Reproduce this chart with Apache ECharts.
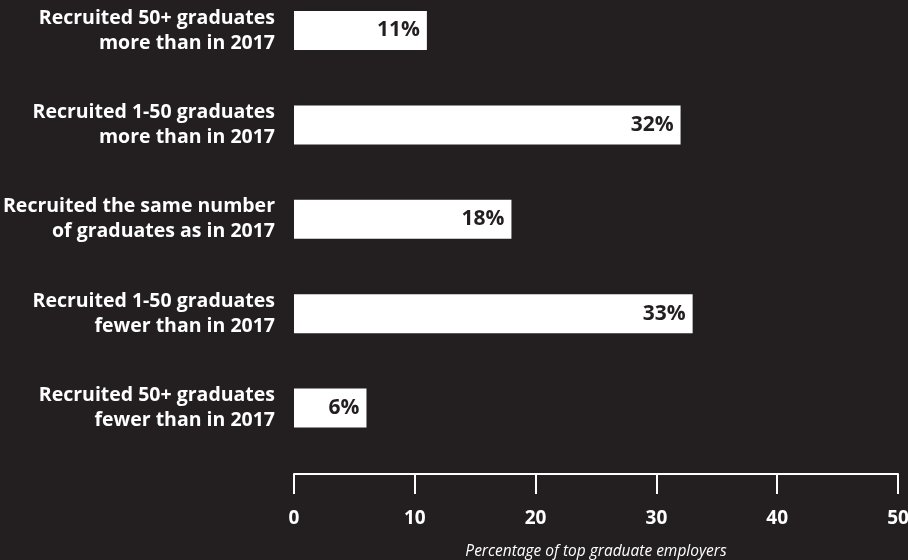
<!DOCTYPE html>
<html>
<head>
<meta charset="utf-8">
<script src="https://cdn.jsdelivr.net/npm/echarts@6/dist/echarts.min.js"></script>
<style>
  html, body { margin: 0; padding: 0; background: #231f20; }
  #chart { width: 908px; height: 560px; }
</style>
</head>
<body>
<div id="chart"></div>
<script>
// Graduate recruitment compared with 2017 (share of top graduate employers, %)
const categories = [
  'Recruited 50+ graduates\nmore than in 2017',
  'Recruited 1-50 graduates\nmore than in 2017',
  'Recruited the same number\nof graduates as in 2017',
  'Recruited 1-50 graduates\nfewer than in 2017',
  'Recruited 50+ graduates\nfewer than in 2017'
];
const shares = [11, 32, 18, 33, 6];
const xTicks = [0, 10, 20, 30, 40, 50];
const xTitle = 'Percentage of top graduate employers';

const BG = '#231f20';
const FONT = '"Open Sans", "Noto Sans", sans-serif';

const chart = echarts.init(document.getElementById('chart'), null, { renderer: 'canvas' });

chart.setOption({
  backgroundColor: BG,
  animation: false,
  // categories sit on the grid edges (boundaryGap off), so the grid spans first to last bar centre
  grid: {
    left: 294, right: 10, top: 30.5, bottom: 152,
    containLabel: false,
    outerBoundsMode: 'none'
  },
  xAxis: {
    type: 'value',
    min: xTicks[0],
    max: xTicks[xTicks.length - 1],
    interval: xTicks[1] - xTicks[0],
    offset: 66,
    splitLine: { show: false },
    axisLine: { show: true, lineStyle: { color: '#ffffff', width: 2 } },
    axisTick: { show: true, length: 20, lineStyle: { color: '#ffffff', width: 2 } },
    axisLabel: {
      color: '#ffffff', fontFamily: FONT, fontWeight: 'bold', fontSize: 19,
      margin: 35
    },
    name: xTitle,
    nameLocation: 'middle',
    nameGap: 70,
    nameTextStyle: { color: '#ffffff', fontFamily: FONT, fontStyle: 'italic', fontSize: 15.5 }
  },
  yAxis: {
    type: 'category',
    data: categories,
    inverse: true,
    boundaryGap: false,
    axisLine: { show: false },
    axisTick: { show: false },
    splitLine: { show: false },
    axisLabel: {
      color: '#ffffff', fontFamily: FONT, fontWeight: 'bold', fontSize: 19.5,
      lineHeight: 25, align: 'right', margin: 19
    }
  },
  series: [{
    type: 'bar',
    data: shares,
    barWidth: 39,
    itemStyle: { color: '#ffffff' },
    label: {
      show: true,
      position: 'insideRight',
      distance: 7,
      color: BG,
      fontFamily: FONT,
      fontWeight: 'bold',
      fontSize: 21,
      formatter: p => p.value + '%'
    }
  }]
});
</script>
</body>
</html>
